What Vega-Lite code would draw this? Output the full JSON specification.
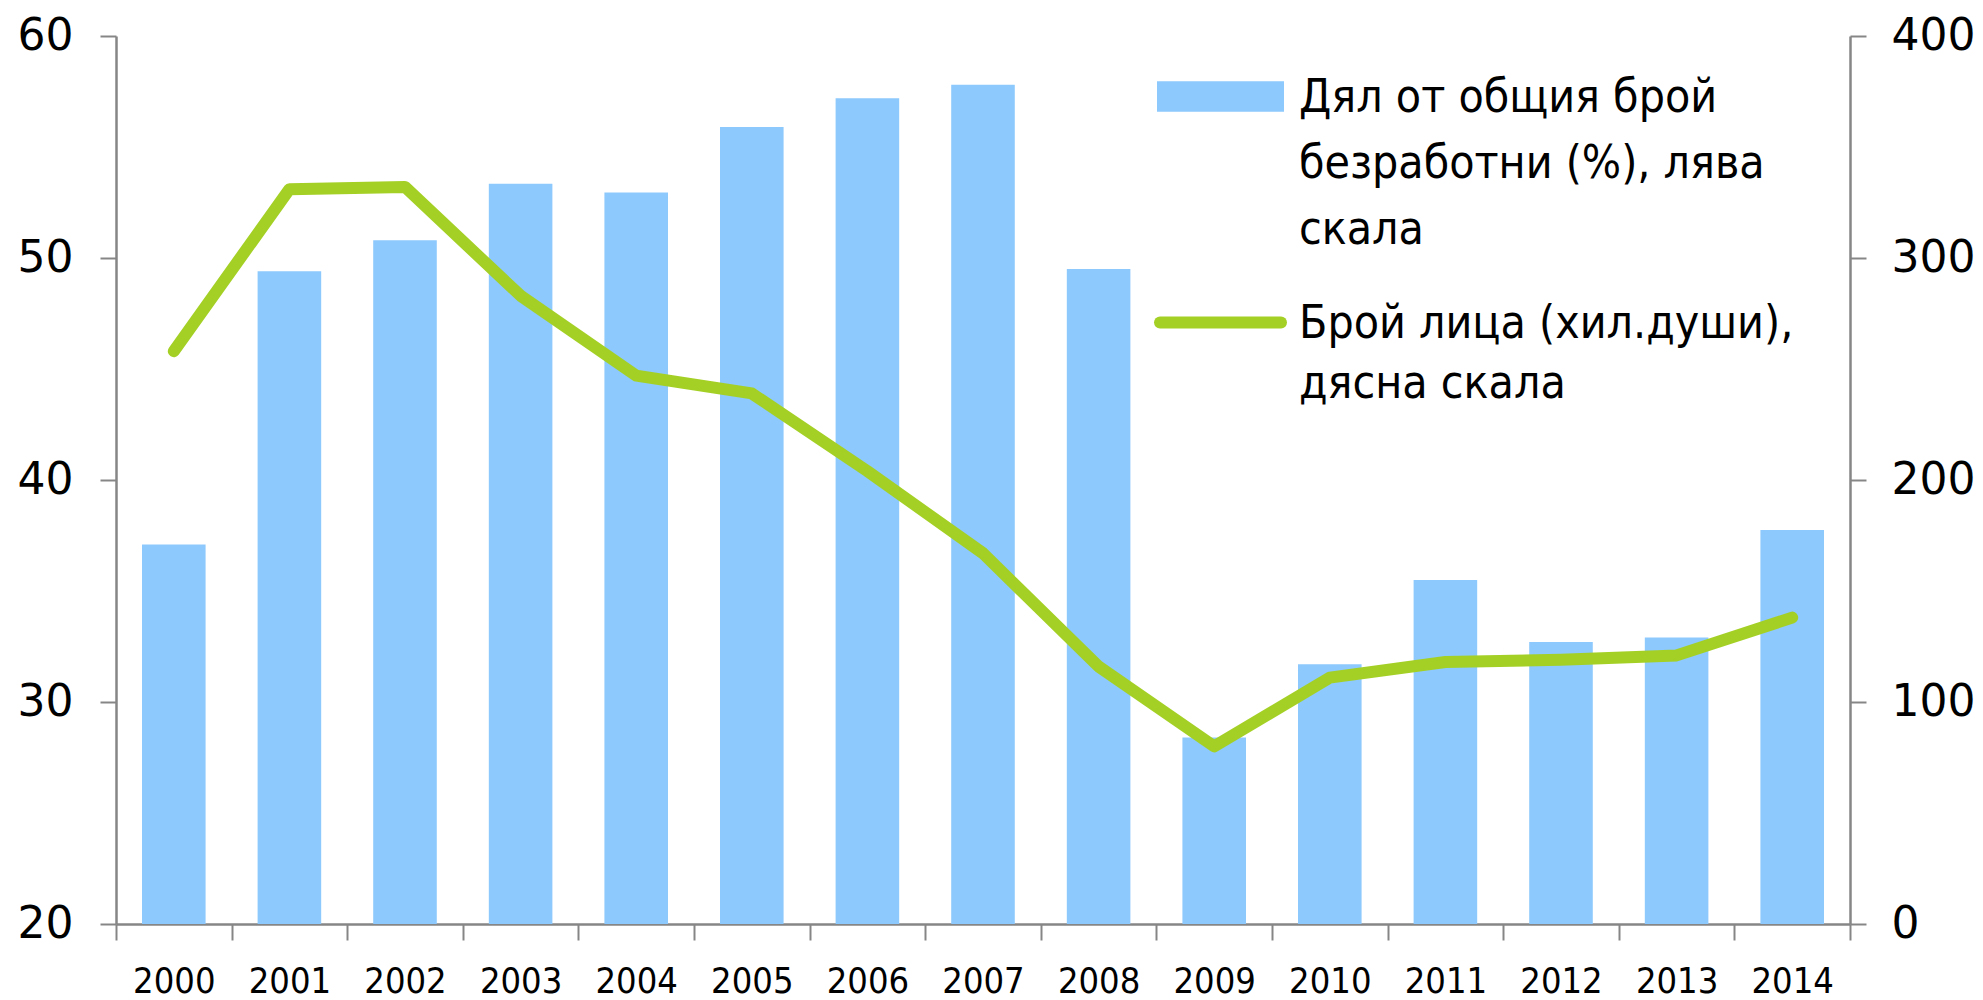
{
  "$schema": "https://vega.github.io/schema/vega-lite/v6.json",
  "width": 1734,
  "height": 888,
  "autosize": {"type": "none"},
  "padding": {"left": 116, "top": 36, "right": 133, "bottom": 76},
  "background": "white",
  "config": {"view": {"stroke": null}, "font": "DejaVu Sans"},
  "data": {
    "values": [
      {"year": "2000", "share": 37.1, "persons": 258},
      {"year": "2001", "share": 49.4, "persons": 331},
      {"year": "2002", "share": 50.8, "persons": 332},
      {"year": "2003", "share": 53.35, "persons": 283},
      {"year": "2004", "share": 52.95, "persons": 247},
      {"year": "2005", "share": 55.9, "persons": 239},
      {"year": "2006", "share": 57.2, "persons": 204},
      {"year": "2007", "share": 57.8, "persons": 167},
      {"year": "2008", "share": 49.5, "persons": 116},
      {"year": "2009", "share": 28.4, "persons": 80},
      {"year": "2010", "share": 31.7, "persons": 111},
      {"year": "2011", "share": 35.5, "persons": 118},
      {"year": "2012", "share": 32.7, "persons": 119},
      {"year": "2013", "share": 32.9, "persons": 121},
      {"year": "2014", "share": 37.75, "persons": 138}
    ]
  },
  "encoding": {
    "x": {
      "field": "year",
      "type": "ordinal",
      "scale": {"paddingInner": 0, "paddingOuter": 0},
      "axis": {
        "title": null,
        "labelAngle": 0,
        "tickBand": "extent",
        "domainColor": "#868686",
        "domainWidth": 2.5,
        "tickColor": "#868686",
        "tickWidth": 2,
        "tickSize": 16,
        "labelFont": "DejaVu Sans Condensed, DejaVu Sans",
        "labelFontSize": 36,
        "labelColor": "#000000",
        "labelPadding": 24
      }
    }
  },
  "layer": [
    {
      "mark": {"type": "bar", "width": {"band": 0.55}},
      "encoding": {
        "y": {
          "field": "share",
          "type": "quantitative",
          "scale": {"domain": [20, 60], "zero": false, "nice": false},
          "axis": {
            "title": null,
            "values": [20, 30, 40, 50, 60],
            "grid": false,
            "domainColor": "#868686",
            "domainWidth": 2.5,
            "tickColor": "#868686",
            "tickWidth": 2,
            "tickSize": 16,
            "labelFont": "DejaVu Sans",
            "labelFontSize": 44,
            "labelColor": "#000000",
            "labelPadding": 27
          }
        },
        "y2": {"datum": 20},
        "fill": {
          "datum": "share",
          "scale": {"range": ["#8DC9FC"]},
          "legend": {
            "orient": "none",
            "legendX": 1041,
            "legendY": -3,
            "title": null,
            "padding": 0,
            "symbolType": "M-1,-0.24L1,-0.24L1,0.24L-1,0.24Z",
            "symbolSize": 16129,
            "symbolStrokeWidth": 0,
            "symbolOpacity": 1,
            "labelFont": "DejaVu Sans Condensed, DejaVu Sans",
            "labelFontSize": 46,
            "labelColor": "#000000",
            "labelLimit": 2000,
            "labelOffset": 15,
            "labelBaseline": "top",
            "labelExpr": "['Дял от общия брой', 'безработни (%), лява', 'скала']",
            "encode": {"labels": {"update": {"lineHeight": {"value": 66}, "dy": {"value": -21}}}}
          }
        }
      }
    },
    {
      "mark": {"type": "line", "strokeWidth": 12, "strokeCap": "round", "strokeJoin": "round"},
      "encoding": {
        "y": {
          "field": "persons",
          "type": "quantitative",
          "scale": {"domain": [0, 400], "nice": false},
          "axis": {
            "orient": "right",
            "title": null,
            "values": [0, 100, 200, 300, 400],
            "grid": false,
            "domainColor": "#868686",
            "domainWidth": 2.5,
            "tickColor": "#868686",
            "tickWidth": 2,
            "tickSize": 16,
            "labelFont": "DejaVu Sans",
            "labelFontSize": 44,
            "labelColor": "#000000",
            "labelPadding": 25
          }
        },
        "stroke": {
          "datum": "persons",
          "scale": {"range": ["#A4D026"]},
          "legend": {
            "orient": "none",
            "legendX": 1038,
            "legendY": 220,
            "title": null,
            "padding": 0,
            "symbolType": "stroke",
            "symbolSize": 14641,
            "symbolStrokeWidth": 12,
            "labelFont": "DejaVu Sans Condensed, DejaVu Sans",
            "labelFontSize": 46,
            "labelColor": "#000000",
            "labelLimit": 2000,
            "labelOffset": 12,
            "labelBaseline": "top",
            "labelExpr": "['Брой лица (хил.души),', 'дясна скала']",
            "encode": {
              "labels": {"update": {"lineHeight": {"value": 60}, "dy": {"value": -21}}},
              "symbols": {"update": {"strokeCap": {"value": "round"}}}
            }
          }
        }
      }
    }
  ],
  "resolve": {"scale": {"y": "independent"}}
}
